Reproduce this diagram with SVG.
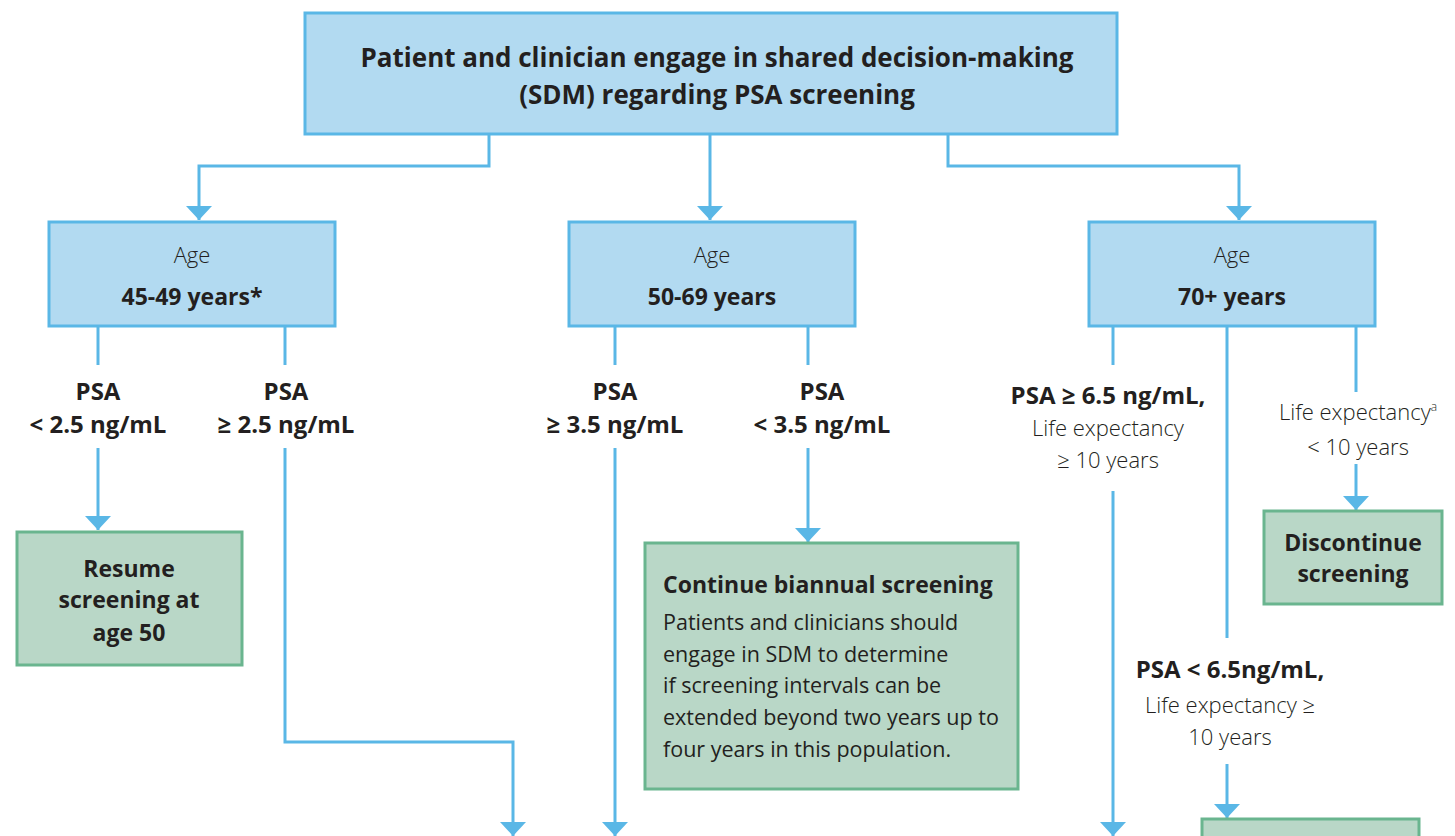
<svg xmlns="http://www.w3.org/2000/svg" width="1455" height="836" viewBox="0 0 1455 836">
<style>
.blue{fill:#b2daf1;stroke:#5ab7e6;stroke-width:3}
.green{fill:#b9d7c7;stroke:#6ab58f;stroke-width:3}
text{font-family:"Open Sans","Noto Sans","Liberation Sans",sans-serif;fill:#231f20;text-anchor:middle}
.t{font-size:26px;font-weight:700}
.lt{font-size:22px;font-weight:300}
.b{font-size:23px;font-weight:700}
.l{font-size:24px;font-weight:700}
.r{font-size:21.5px;font-weight:400;text-anchor:start}
.c{fill:none;stroke:#5ab7e6;stroke-width:3}
</style>
<defs>
<marker id="ah" markerUnits="userSpaceOnUse" markerWidth="28" markerHeight="28" refX="0" refY="0" orient="auto" overflow="visible">
<path d="M-14,-13 L0,0 L-14,13 z" fill="#5ab7e6"/>
</marker>
</defs>
<g id="connectors">
<path class="c" d="M489,134 V166 H199 V220" marker-end="url(#ah)"/>
<path class="c" d="M710,134 V220" marker-end="url(#ah)"/>
<path class="c" d="M948,134 V166 H1239 V220" marker-end="url(#ah)"/>
<path class="c" d="M98,326 V365"/>
<path class="c" d="M98,448 V530" marker-end="url(#ah)"/>
<path class="c" d="M285,326 V365"/>
<path class="c" d="M285,448 V742 H513 V836" marker-end="url(#ah)"/>
<path class="c" d="M615,326 V365"/>
<path class="c" d="M615,448 V836" marker-end="url(#ah)"/>
<path class="c" d="M808,326 V365"/>
<path class="c" d="M808,448 V542" marker-end="url(#ah)"/>
<path class="c" d="M1113,326 V365"/>
<path class="c" d="M1113,491 V836" marker-end="url(#ah)"/>
<path class="c" d="M1227,326 V638"/>
<path class="c" d="M1227,764 V818" marker-end="url(#ah)"/>
<path class="c" d="M1356,326 V392"/>
<path class="c" d="M1356,464 V510" marker-end="url(#ah)"/>
</g>
<g id="sdm">
<rect class="blue" x="305" y="13" width="812" height="121"/>
<text class="t" x="717" y="67">Patient and clinician engage in shared decision-making</text>
<text class="t" x="717" y="104">(SDM) regarding PSA screening</text>
</g>
<g id="age45">
<rect class="blue" x="49" y="222" width="286" height="104"/>
<text class="lt" x="192" y="263">Age</text>
<text class="b" x="192" y="305">45-49 years*</text>
</g>
<g id="age50">
<rect class="blue" x="569" y="222" width="286" height="104"/>
<text class="lt" x="712" y="263">Age</text>
<text class="b" x="712" y="305">50-69 years</text>
</g>
<g id="age70">
<rect class="blue" x="1089" y="222" width="286" height="104"/>
<text class="lt" x="1232" y="263">Age</text>
<text class="b" x="1232" y="305">70+ years</text>
</g>
<g id="lbl1">
<text class="l" x="98" y="400">PSA</text>
<text class="l" x="98" y="433">&lt; 2.5 ng/mL</text>
</g>
<g id="lbl2">
<text class="l" x="286" y="400">PSA</text>
<text class="l" x="286" y="433">≥ 2.5 ng/mL</text>
</g>
<g id="lbl3">
<text class="l" x="615" y="400">PSA</text>
<text class="l" x="615" y="433">≥ 3.5 ng/mL</text>
</g>
<g id="lbl4">
<text class="l" x="822" y="400">PSA</text>
<text class="l" x="822" y="433">&lt; 3.5 ng/mL</text>
</g>
<g id="lbl5">
<text class="l" x="1108" y="404">PSA ≥ 6.5 ng/mL,</text>
<text class="lt" x="1108" y="436">Life expectancy</text>
<text class="lt" x="1108" y="468">≥ 10 years</text>
</g>
<g id="lbl6">
<text class="lt" x="1358" y="420">Life expectancy<tspan font-size="12" dy="-9">a</tspan></text>
<text class="lt" x="1358" y="455">&lt; 10 years</text>
</g>
<g id="lbl7">
<text class="l" x="1230" y="678">PSA &lt; 6.5ng/mL,</text>
<text class="lt" x="1230" y="713">Life expectancy ≥</text>
<text class="lt" x="1230" y="745">10 years</text>
</g>
<g id="resume">
<rect class="green" x="17" y="532" width="225" height="133"/>
<text class="b" x="129" y="577">Resume</text>
<text class="b" x="129" y="608">screening at</text>
<text class="b" x="129" y="641">age 50</text>
</g>
<g id="continue">
<rect class="green" x="645" y="543" width="373" height="246"/>
<text class="b" x="663" y="593" style="text-anchor:start">Continue biannual screening</text>
<text class="r" x="663" y="630">Patients and clinicians should</text>
<text class="r" x="663" y="662">engage in SDM to determine</text>
<text class="r" x="663" y="693">if screening intervals can be</text>
<text class="r" x="663" y="725">extended beyond two years up to</text>
<text class="r" x="663" y="757">four years in this population.</text>
</g>
<g id="discontinue">
<rect class="green" x="1264" y="511" width="178" height="93"/>
<text class="b" x="1353" y="551">Discontinue</text>
<text class="b" x="1353" y="582">screening</text>
</g>
<g id="bottom">
<rect class="green" x="1202" y="819" width="217" height="30"/>
</g>
</svg>
